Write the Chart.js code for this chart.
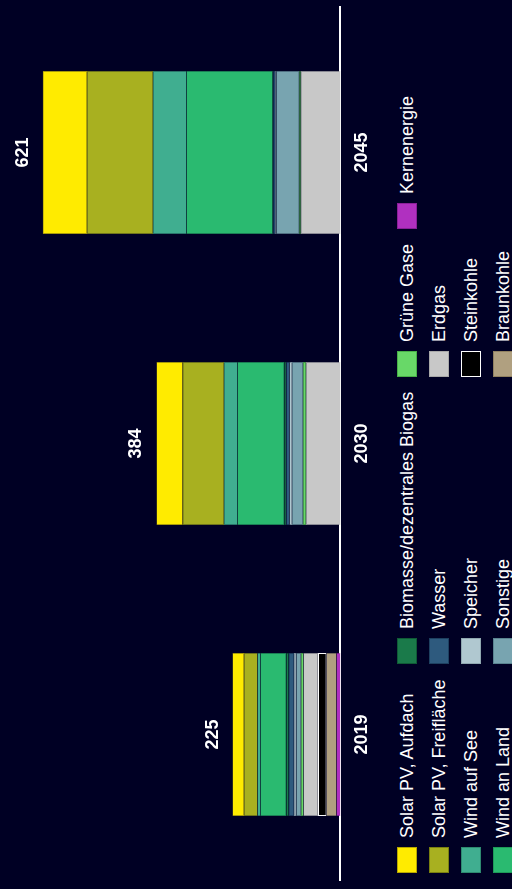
<!DOCTYPE html>
<html lang="de">
<head>
<meta charset="utf-8">
<title>Installierte Leistung</title>
<script src="https://cdn.jsdelivr.net/npm/chart.js@4"></script>
<style>
  html, body { margin: 0; padding: 0; background: #000024; overflow: hidden; }
  body { width: 512px; height: 889px; position: relative; }
  /* the whole chart is drawn upright and turned a quarter turn */
  #turn {
    position: absolute; left: 0; top: 0;
    width: 889px; height: 512px;
    transform-origin: 0 0;
    transform: translateY(889px) rotate(-90deg);
  }
  #chart { position: absolute; left: 0; top: 0; }
  #legend {
    position: absolute; left: 16px; top: 391px;
    display: grid;
    grid-auto-flow: column;
    grid-template-rows: repeat(4, 32px);
    grid-template-columns: 209px 287px 148px auto;
    font: 18px "Liberation Sans", Arial, sans-serif;
    color: #fff;
  }
  .item { display: flex; align-items: center; white-space: nowrap; }
  .box { width: 24px; height: 18px; margin-right: 9px; border: 1px solid; }
</style>
</head>
<body>
<div id="turn">
  <canvas id="chart" width="889" height="384"></canvas>
  <div id="legend"></div>
</div>
<script>
// Jahre und Summen (GW)
const years = ['2019', '2030', '2045'];
const totals = [225, 384, 621];

// Werte je Technologie, Reihenfolge wie in der Legende
const solarAufdach = [24, 55, 92];
const solarFreiflaeche = [28, 86, 138];
const windSee = [6, 28, 70];
const windLand = [54, 98, 180];
const biomasse = [5, 4, 1];
const wasser = [11, 7, 4];
const speicher = [5, 5, 2];
const sonstige = [10, 23, 48];
const grueneGase = [5, 6, 3];
const erdgas = [30, 72, 83];
const steinkohle = [18, 0, 0];
const braunkohle = [21, 0, 0];
const kernenergie = [8, 0, 0];

const series = [
    { label: 'Solar PV, Aufdach', data: solarAufdach, color: '#ffeb00', border: '#b8a800' },
    { label: 'Solar PV, Freifläche', data: solarFreiflaeche, color: '#a8b020', border: '#7a8010' },
    { label: 'Wind auf See', data: windSee, color: '#40ae90', border: '#2e8a70' },
    { label: 'Wind an Land', data: windLand, color: '#2aba70', border: '#1e9a58' },
    { label: 'Biomasse/dezentrales Biogas', data: biomasse, color: '#1a7a4a', border: '#105a36' },
    { label: 'Wasser', data: wasser, color: '#2e5a7e', border: '#1e4060' },
    { label: 'Speicher', data: speicher, color: '#b0c8d0', border: '#90a8b0' },
    { label: 'Sonstige', data: sonstige, color: '#78a4b0', border: '#5a8490' },
    { label: 'Grüne Gase', data: grueneGase, color: '#68d868', border: '#48b048' },
    { label: 'Erdgas', data: erdgas, color: '#c8c8c8', border: '#a8a8a8' },
    { label: 'Steinkohle', data: steinkohle, color: '#000000', border: '#ffffff' },
    { label: 'Braunkohle', data: braunkohle, color: '#b0a080', border: '#908060' },
    { label: 'Kernenergie', data: kernenergie, color: '#b030c0', border: '#8a2098' }
];

Chart.defaults.font.family = '"Liberation Sans", Arial, sans-serif';
Chart.defaults.color = '#ffffff';

// Stapel: Kernenergie unten, Solar oben
const datasets = series.slice().reverse().map(s => ({
    label: s.label,
    data: s.data.map(v => v || null),
    backgroundColor: s.color,
    borderColor: s.border,
    borderWidth: s.label === 'Steinkohle' ? 1 : 0.5,
    borderSkipped: false
}));

/**
 * Summen über den Säulen
 */
const totalLabels = {
    id: 'totalLabels',
    afterDatasetsDraw(chart) {
        const { ctx, scales } = chart;
        ctx.save();
        ctx.fillStyle = '#ffffff';
        ctx.font = 'bold 18px "Liberation Sans", Arial, sans-serif';
        ctx.textAlign = 'center';
        ctx.textBaseline = 'alphabetic';
        totals.forEach((t, i) => {
            const x = scales.x.getPixelForValue(i);
            const y = scales.y.getPixelForValue(t);
            ctx.fillText(String(t), x, y - 15);
        });
        ctx.restore();
    }
};

/**
 * Legende als Raster (spaltenweise)
 */
const htmlLegend = {
    id: 'htmlLegend',
    afterUpdate(chart) {
        const box = document.getElementById('legend');
        box.innerHTML = '';
        const items = chart.options.plugins.legend.labels.generateLabels(chart).reverse();
        items.forEach(item => {
            const el = document.createElement('div');
            el.className = 'item';
            el.innerHTML = `<span class="box" style="background:${item.fillStyle};border-color:${item.strokeStyle}"></span><span>${item.text}</span>`;
            box.appendChild(el);
        });
    }
};

const ctx = document.getElementById('chart').getContext('2d');
new Chart(ctx, {
    type: 'bar',
    data: { labels: years, datasets },
    options: {
        responsive: false,
        animation: false,
        layout: { padding: { top: 5, left: 9, right: 7, bottom: 0 } },
        datasets: { bar: { categoryPercentage: 0.8, barPercentage: 0.7 } },
        scales: {
            x: {
                stacked: true,
                grid: { display: false, drawTicks: false },
                border: { display: true, color: '#ffffff', width: 2 },
                ticks: { color: '#ffffff', padding: 11, font: { size: 18, weight: 'bold' } }
            },
            y: {
                stacked: true,
                display: false,
                min: 0,
                max: 700
            }
        },
        plugins: {
            legend: { display: false },
            tooltip: { enabled: false }
        }
    },
    plugins: [totalLabels, htmlLegend]
});
</script>
</body>
</html>
